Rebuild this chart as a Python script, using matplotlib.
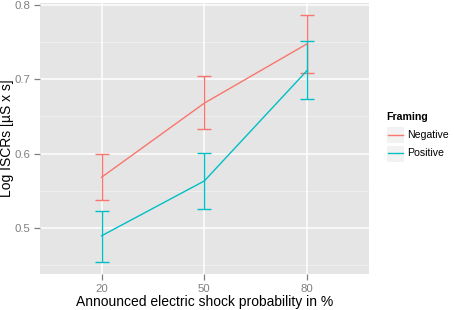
import matplotlib
matplotlib.use("Agg")
import matplotlib.pyplot as plt
from matplotlib.patches import Rectangle
from matplotlib.lines import Line2D
import numpy as np

categories = ["20", "50", "80"]
series = ["Negative", "Positive"]
neg_mean = [0.568, 0.668, 0.748]
neg_upper = [0.599, 0.704, 0.787]
neg_lower = [0.537, 0.633, 0.709]
pos_mean = [0.489, 0.563, 0.712]
pos_upper = [0.523, 0.601, 0.752]
pos_lower = [0.454, 0.525, 0.674]
colors = ["#F8766D", "#00BFC4"]
yticks = [0.5, 0.6, 0.7, 0.8]
yminor = [0.45, 0.55, 0.65, 0.75]

plt.rcParams['font.family'] = ['Liberation Sans', 'DejaVu Sans']

W, H = 454, 310
fig = plt.figure(figsize=(W / 100, H / 100), dpi=100)
ax_w = 368.7 - 40
ax = fig.add_axes([40 / W, 1 - 274 / H, ax_w / W, (274 - 3.3) / H])
ax.set_facecolor("#E5E5E5")
for s in ax.spines.values():
    s.set_visible(False)

x = np.arange(len(categories))
ax.set_xlim(-0.6, len(categories) - 1 + 0.6)
ax.set_ylim(0.4374, 0.8027)

for yv in yminor:
    ax.axhline(yv, color="#F2F2F2", lw=0.6, zorder=0.5)
for yv in yticks:
    ax.axhline(yv, color="white", lw=1.1, zorder=0.6)
for xv in x:
    ax.axvline(xv, color="white", lw=1.1, zorder=0.6)

data = [(neg_mean, neg_lower, neg_upper), (pos_mean, pos_lower, pos_upper)]
for (m, lo, hi), c in zip(data, colors):
    m = np.array(m); lo = np.array(lo); hi = np.array(hi)
    ax.errorbar(x, m, yerr=[m - lo, hi - m], color=c, lw=1.0, elinewidth=1.0,
                capsize=5, capthick=1.0, zorder=3)

ax.set_xticks(x)
ax.set_xticklabels(categories)
ax.set_yticks(yticks)
ax.set_yticklabels([f"{v:.1f}" for v in yticks])
ax.tick_params(axis="both", colors="#7F7F7F", labelcolor="#7F7F7F", labelsize=8.2,
               length=4.5, width=0.9, pad=2.5)
ax.set_xlabel("Announced electric shock probability in %", fontsize=10, color="black", labelpad=1)
ax.set_ylabel("Log ISCRs [µS x s]", fontsize=10, color="black")
ax.yaxis.set_label_coords((14.5 - 40) / ax_w, 0.5)

# legend
def fx(px):
    return px / W
def fy(py):
    return 1 - py / H

fig.text(fx(386.5), fy(116.7), "Framing", fontsize=7.6, fontweight="bold", va="center", ha="left")
key_w, key_h = 17.5, 17.5
for i, (name, c) in enumerate(zip(series, colors)):
    cy = 134.5 + i * 18.8
    fig.patches.append(Rectangle((fx(386), fy(cy + key_h / 2)), key_w / W, key_h / H,
                                 transform=fig.transFigure, facecolor="#F2F2F2",
                                 edgecolor="white", lw=0.8))
    fig.lines.append(Line2D([fx(387.5), fx(402.5)], [fy(cy), fy(cy)],
                            transform=fig.transFigure, color=c, lw=1.0))
    fig.text(fx(407.5), fy(cy), name, fontsize=7.6, va="center", ha="left")

fig.savefig("out.png", dpi=100)
